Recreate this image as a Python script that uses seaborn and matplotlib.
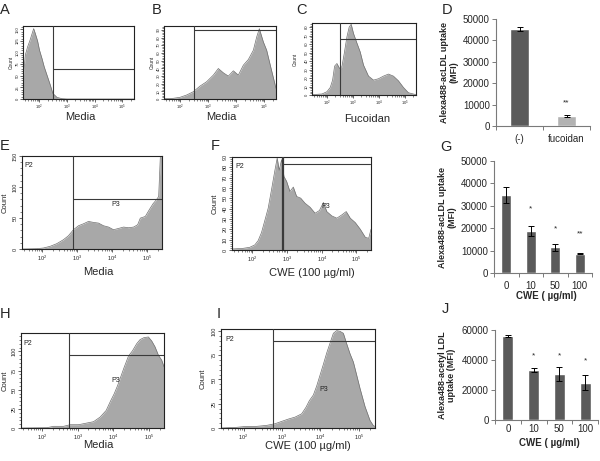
import matplotlib
matplotlib.use("Agg")
import matplotlib.pyplot as plt
from matplotlib.ticker import LogLocator, MultipleLocator, NullFormatter, FixedLocator
import numpy as np
import pandas as pd
import seaborn as sns

W, H = 600, 461

# ---- flow histograms: log10 fluorescence vs. count ----
a_logfl = [1.415, 1.45, 1.50, 1.58, 1.66, 1.74, 1.80, 1.86, 1.94, 2.01, 2.10, 2.18, 2.28, 2.40, 2.49, 2.64, 2.82, 3.00, 5.419]
a_count = [40.7, 62.0, 95.0, 112.0, 125.0, 140.0, 151.3, 140.6, 125.0, 105.0, 87.1, 69.2, 51.4, 30.0, 12.1, 3.6, 0.7, 0.0, 0.0]

b_logfl = [1.415, 1.749, 1.987, 2.225, 2.464, 2.702, 2.940, 3.179, 3.357, 3.536, 3.715, 3.894, 4.072,
           4.251, 4.430, 4.609, 4.728, 4.823, 4.966, 5.085, 5.228, 5.419]
b_count = [0.4, 0.9, 2.2, 5.2, 9.5, 16.8, 22.5, 31.1, 39.7, 34.1, 29.8, 36.7, 31.1,
           44.0, 51.4, 63.5, 80.7, 91.5, 74.3, 63.5, 41.9, 13.8]

c_logfl = [1.415, 1.799, 1.991, 2.119, 2.208, 2.285, 2.374, 2.477, 2.566, 2.656, 2.758, 2.847, 2.924,
           3.014, 3.142, 3.270, 3.398, 3.590, 3.782, 3.973, 4.165, 4.357, 4.549, 4.741, 4.933, 5.125, 5.419]
c_count = [0.4, 1.2, 3.9, 9.0, 17.6, 34.1, 37.2, 31.3, 33.3, 49.0, 68.5, 80.3, 83.5,
           72.5, 61.5, 50.9, 35.3, 22.3, 17.6, 19.2, 22.3, 24.7, 22.3, 16.8, 9.0, 2.7, 0.4]

e_logfl = [1.415, 1.835, 2.027, 2.218, 2.409, 2.600, 2.743, 2.887, 3.030, 3.173, 3.317, 3.460, 3.603,
           3.747, 3.890, 4.033, 4.177, 4.320, 4.463, 4.607, 4.722, 4.798, 4.941, 5.065, 5.161, 5.257,
           5.323, 5.371, 5.419]
e_count = [0.0, 0.5, 1.6, 4.3, 8.6, 15.0, 21.4, 31.1, 37.5, 40.7, 44.5, 42.9, 41.8,
           37.5, 35.4, 31.1, 33.2, 35.4, 34.3, 35.4, 39.1, 49.8, 52.5, 64.3, 72.9, 79.3,
           84.6, 148.9, 148.9]

f_logfl = [1.415, 1.733, 1.926, 2.071, 2.168, 2.264, 2.360, 2.457, 2.553, 2.650, 2.717, 2.775, 2.843,
           2.910, 2.988, 3.084, 3.181, 3.277, 3.393, 3.518, 3.663, 3.808, 3.933, 4.049, 4.145, 4.290,
           4.435, 4.579, 4.705, 4.821, 4.966, 5.110, 5.255, 5.352, 5.419]
f_count = [1.0, 1.6, 2.6, 4.9, 9.1, 16.8, 28.5, 40.5, 58.3, 77.0, 89.0, 77.0, 87.4,
           71.2, 66.4, 56.6, 60.9, 51.8, 50.2, 45.3, 41.4, 35.6, 38.2, 46.0, 37.2, 33.0,
           30.8, 34.0, 37.2, 30.8, 26.5, 20.1, 12.3, 11.3, 20.1]

h_logfl = [1.415, 2.141, 2.328, 2.607, 2.793, 3.026, 3.259, 3.445, 3.631, 3.799, 3.929, 4.022, 4.115,
           4.209, 4.302, 4.423, 4.535, 4.656, 4.749, 4.860, 4.982, 5.075, 5.168, 5.261, 5.354, 5.419]
h_count = [0.0, 0.4, 2.2, 2.2, 4.3, 4.3, 6.5, 8.2, 14.3, 22.9, 35.9, 44.5, 54.9,
           67.0, 79.1, 93.8, 100.7, 110.2, 115.4, 118.0, 118.8, 113.6, 105.9, 95.1, 88.6, 79.9]

i_logfl = [1.415, 1.822, 2.082, 2.342, 2.602, 2.819, 2.992, 3.166, 3.339, 3.512, 3.625, 3.712, 3.816,
           3.902, 3.989, 4.076, 4.162, 4.249, 4.336, 4.422, 4.509, 4.596, 4.683, 4.769, 4.856, 4.943,
           5.029, 5.159, 5.289, 5.376, 5.419]
i_count = [0.0, 0.7, 1.7, 1.7, 2.7, 4.4, 6.8, 9.2, 11.2, 14.6, 21.4, 28.2, 34.0,
           43.2, 54.4, 65.6, 77.2, 87.4, 97.6, 100.3, 99.6, 97.6, 86.7, 76.5, 68.0, 54.4,
           40.8, 22.1, 7.8, 2.4, 1.7]

# ---- bar charts (MFI) ----
d_groups = ["(-)", "fucoidan"]
d_mfi = [45300, 4800]
d_err = [1100, 500]
d_stars = ["", "**"]
d_star_y = [0, 11000]

g_groups = ["0", "10", "50", "100"]
g_mfi = [34800, 18600, 11500, 8600]
g_err = [3500, 2300, 1500, 200]
g_stars = ["", "*", "*", "**"]
g_star_y = [0, 28500, 19800, 17500]

j_groups = ["0", "10", "50", "100"]
j_mfi = [55800, 33400, 30800, 25000]
j_err = [700, 1500, 4500, 4700]
j_stars = ["", "*", "*", "*"]
j_star_y = [0, 42500, 43000, 39500]

FILL = "#a8a8a8"
EDGE = "#707070"
GATE = "#3a3a3a"
BAR_DARK = "#5a5a5a"
BAR_LIGHT = "#b2b2b2"
XMIN, XMAX = 26, 262144

sns.set_style("ticks")
plt.rcParams["font.family"] = ["Liberation Sans", "DejaVu Sans"]
plt.rcParams["mathtext.default"] = "regular"

fig = plt.figure(figsize=(6.0, 4.61), dpi=100)


def rect(l, t, r, b):
    return [l / W, 1 - b / H, (r - l) / W, (b - t) / H]


def facs_panel(box, logfl, count, ymax, ymaj, ymin, gate_x, gate_y, gate_end, xlabel,
               xlab_px, ylab_px, small, gate_lw=0.8):
    l, t, r, b = box
    ax = fig.add_axes(rect(*box))
    ax.set_xscale("log")
    x = 10 ** np.asarray(logfl)
    ax.fill_between(x, count, color=FILL, lw=0, zorder=1)
    sns.lineplot(x=x, y=count, ax=ax, color=EDGE, lw=0.5, sort=False, zorder=2)
    ax.set_xlim(XMIN, XMAX)
    ax.set_ylim(0, ymax)
    ax.axvline(10 ** gate_x, color=GATE, lw=gate_lw, zorder=3)
    ax.plot([10 ** gate_x, 10 ** gate_end], [gate_y, gate_y], color=GATE, lw=0.8, zorder=3)
    ax.xaxis.set_major_locator(LogLocator(base=10))
    ax.xaxis.set_minor_locator(LogLocator(base=10, subs=np.arange(2, 10)))
    ax.xaxis.set_minor_formatter(NullFormatter())
    ax.yaxis.set_major_locator(MultipleLocator(ymaj))
    ax.yaxis.set_minor_locator(MultipleLocator(ymin))
    fs = 3 if small else 4
    ax.tick_params(which="major", direction="out", length=2.0 if small else 2.2, width=0.5,
                   labelsize=fs, pad=0.5 if small else 1)
    ax.tick_params(which="minor", direction="out", length=1.2, width=0.4)
    for lab in ax.get_yticklabels():
        lab.set_rotation(90)
        lab.set_va("center")
    for s in ax.spines.values():
        s.set_linewidth(0.8)
        s.set_color("#222222")
    ax.set_xlabel(xlabel, fontsize=8)
    ax.xaxis.set_label_coords((xlab_px[0] - l) / (r - l), -(xlab_px[1] - b) / (b - t))
    ax.xaxis.label.set_va("center")
    ax.set_ylabel("Count", fontsize=3.5 if small else 5.5)
    ax.yaxis.set_label_coords(-(l - ylab_px) / (r - l), 0.5)
    ax.yaxis.label.set_va("center")
    return ax


def bar_panel(box, groups, vals, errs, colors, ymax, ystep, ylabel, xlabel, ylab_px, xlab_px,
              stars, star_y, xpad=5.5):
    l, t, r, b = box
    ax = fig.add_axes(rect(*box))
    df = pd.DataFrame({"group": groups, "mfi": vals})
    sns.barplot(data=df, x="group", y="mfi", hue="group", order=groups, hue_order=groups,
                palette=dict(zip(groups, colors)), legend=False, width=0.42, saturation=1,
                errorbar=None, ax=ax)
    ax.errorbar(np.arange(len(groups)), vals, yerr=errs, fmt="none", ecolor="black",
                elinewidth=0.7, capsize=2, capthick=0.7)
    for i, (s, y) in enumerate(zip(stars, star_y)):
        if s:
            ax.text(i, y, s, ha="center", va="center", fontsize=6)
    ax.set_xlim(-0.5, len(groups) - 0.5)
    ax.set_ylim(0, ymax)
    ax.yaxis.set_major_locator(MultipleLocator(ystep))
    ax.xaxis.set_minor_locator(FixedLocator(np.arange(-0.5, len(groups), 1.0)))
    sns.despine(ax=ax)
    for s in ("left", "bottom"):
        ax.spines[s].set_color("#7a7a7a")
        ax.spines[s].set_linewidth(0.8)
    ax.tick_params(axis="y", direction="out", length=3, width=0.7, color="#7a7a7a",
                   labelsize=7, pad=1.5)
    ax.tick_params(axis="x", which="major", length=0, labelsize=7, pad=xpad)
    ax.tick_params(axis="x", which="minor", direction="out", length=3, width=0.7, color="#7a7a7a")
    ax.set_xlabel(xlabel, fontsize=7, fontweight="bold")
    if xlab_px is not None:
        ax.xaxis.set_label_coords((xlab_px[0] - l) / (r - l), -(xlab_px[1] - b) / (b - t))
        ax.xaxis.label.set_va("center")
    ax.set_ylabel(ylabel, fontsize=6.5, fontweight="bold", linespacing=1.1)
    ax.yaxis.set_label_coords(-(l - ylab_px) / (r - l), 0.5)
    ax.yaxis.label.set_va("center")
    return ax


# top row
facs_panel((23, 26, 134, 99), a_logfl, a_count, 157, 25, 5, 2.494, 64.2, 5.419,
           "Media", (80, 117), 11.5, True)
facs_panel((164, 26, 276, 99), b_logfl, b_count, 95, 10, 2, 2.499, 90.2, 5.419,
           "Media", (221, 117), 152.5, True)
facs_panel((312, 23, 416, 95), c_logfl, c_count, 85, 10, 2, 2.502, 66.6, 5.419,
           "Fucoidan", (367, 119), 295, True)
bar_panel((496, 19, 590, 126), d_groups, d_mfi, d_err, [BAR_DARK, BAR_LIGHT], 50000, 10000,
          "Alexa488-acLDL uptake\n(MFI)", "", 449, None, d_stars, d_star_y)

# middle row
facs_panel((22, 156, 162, 249), e_logfl, e_count, 150, 50, 10, 2.887, 80.4, 5.419,
           "Media", (98, 272), 5, False)
facs_panel((232, 157, 371, 250), f_logfl, f_count, 90, 10, 2, 2.891, 83.5, 5.376,
           "CWE (100 µg/ml)", (312, 273), 215, False, gate_lw=1.6)
bar_panel((494, 161, 592, 273), g_groups, g_mfi, g_err, [BAR_DARK] * 4, 50000, 10000,
          "Alexa488-acLDL uptake\n(MFI)", "CWE ( µg/ml)", 447, (546, 296), g_stars, g_star_y)

# bottom row
facs_panel((21, 333, 164, 428), h_logfl, h_count, 124, 25, 5, 2.747, 95.9, 5.419,
           "Media", (98, 445), 5, False)
facs_panel((221, 329, 375, 428), i_logfl, i_count, 102, 25, 5, 2.776, 90.1, 5.419,
           "CWE (100 µg/ml)", (308, 446), 203, False)
bar_panel((495, 330, 598, 420), j_groups, j_mfi, j_err, [BAR_DARK] * 4, 60000, 20000,
          "Alexa488-acetyl LDL\nuptake (MFI)", "CWE ( µg/ml)", 447, (549, 443), j_stars, j_star_y,
          xpad=3.0)

# gate / population labels
for (px_, py_, s) in [(24, 165, "P2"), (116, 205, "P3"), (235, 167, "P2"), (326, 206, "P3"),
                      (23, 343, "P2"), (116, 381, "P3"), (225, 339, "P2"), (324, 389, "P3")]:
    fig.text(px_ / W, 1 - py_ / H, s, fontsize=5, ha="left" if s == "P2" else "center",
             va="center", color="#222222")

# panel letters
for (px_, py_, s) in [(0, 10, "A"), (152, 10, "B"), (296, 10, "C"), (442, 10, "D"),
                      (0, 146, "E"), (211, 146, "F"), (440, 147, "G"),
                      (0, 314, "H"), (217, 314, "I"), (442, 309, "J")]:
    fig.text(px_ / W, 1 - py_ / H, s, fontsize=10.5, ha="left", va="center")

fig.savefig("out.png", dpi=100)
